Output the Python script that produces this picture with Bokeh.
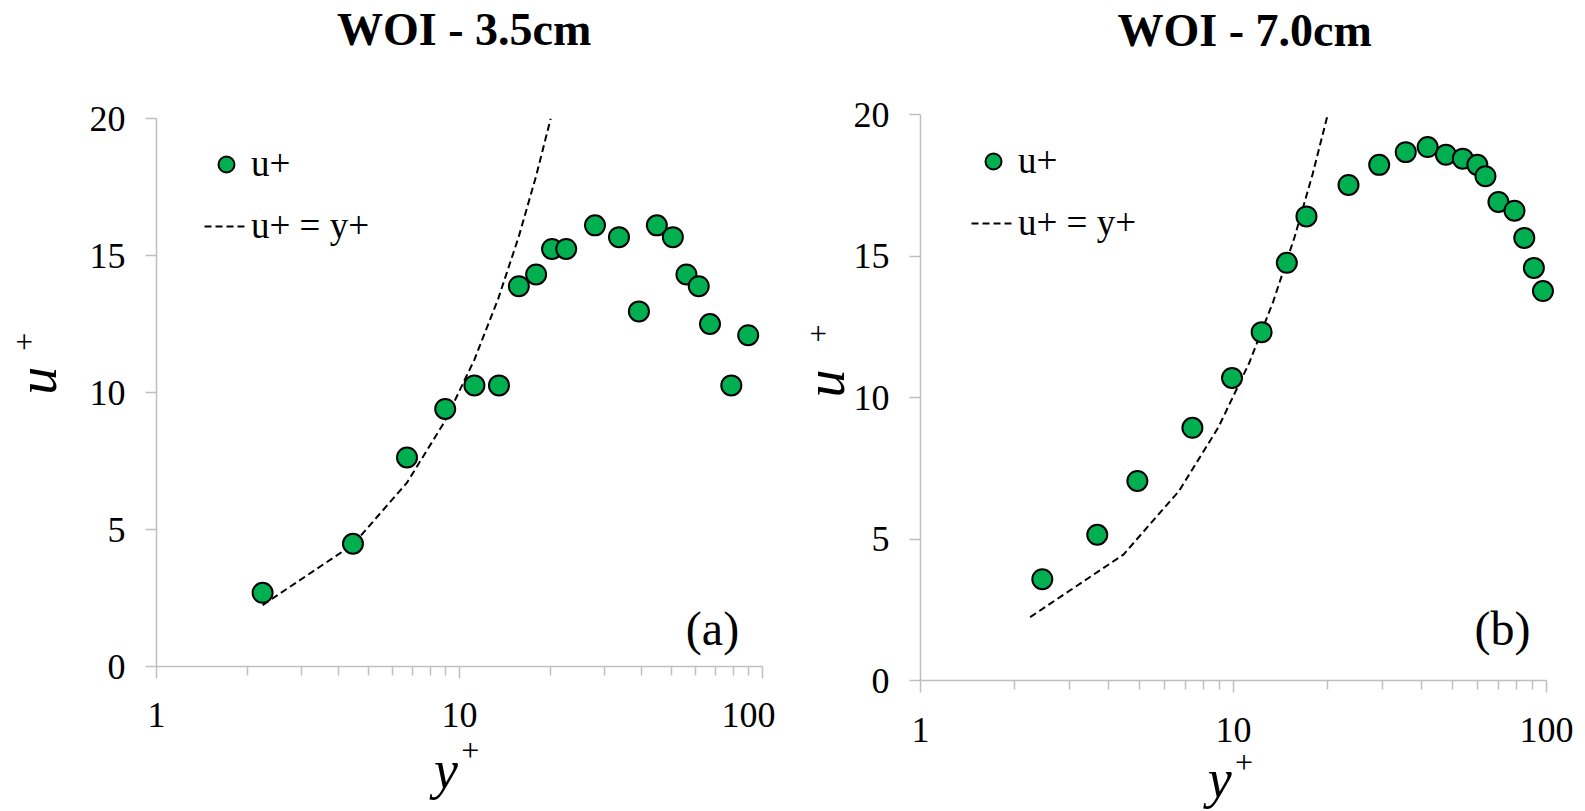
from bokeh.plotting import figure
from bokeh.models import (FixedTicker, Label, Legend, LegendItem, Range1d,
                          BasicTickFormatter, ColumnDataSource, LinearAxis)
from bokeh.layouts import row
from bokeh.embed import file_html
from bokeh.resources import INLINE

# ---------------- data ----------------
yplus_a = [2.24, 4.45, 6.71, 8.97, 11.2, 13.5, 15.7, 17.9, 20.2, 22.5, 28.0,
           33.6, 39.1, 44.8, 50.6, 56.1, 61.6, 67.1, 78.9, 89.7]
uplus_a = [2.69, 4.48, 7.63, 9.40, 10.26, 10.26, 13.88, 14.31, 15.24, 15.24,
           16.10, 15.67, 12.96, 16.10, 15.67, 14.31, 13.88, 12.50, 10.26, 12.09]

yplus_b = [2.45, 3.67, 4.93, 7.39, 9.89, 12.3, 14.8, 17.1, 23.3, 29.2, 35.5,
           41.7, 47.7, 54.0, 60.1, 63.8, 70.2, 79.0, 84.9, 91.1, 97.4]
uplus_b = [3.58, 5.15, 7.05, 8.93, 10.69, 12.31, 14.76, 16.40, 17.51, 18.22,
           18.67, 18.85, 18.58, 18.44, 18.22, 17.82, 16.91, 16.60, 15.64, 14.58,
           13.76]

# viscous sublayer line u+ = y+
line_yplus = [2.24, 4.45, 6.7, 8.95, 11.2, 13.4, 15.7, 17.9, 20.0]
line_uplus = [2.24, 4.45, 6.7, 8.95, 11.2, 13.4, 15.7, 17.9, 20.0]

x_major = [1, 10, 100]
x_minor = [2, 3, 4, 5, 6, 7, 8, 9, 20, 30, 40, 50, 60, 70, 80, 90]
y_ticks = [0, 5, 10, 15, 20]

titles = ["WOI - 3.5cm", "WOI - 7.0cm"]
tags = ["(a)", "(b)"]
legend_labels = ["u+", "u+ = y+"]
x_title = ("y", "+")     # y+ (italic y, raised +)
y_title = ("u", "+")     # u+ (italic u, raised +)

SERIF = "Liberation Serif"
AXIS_GREY = "#BFBFBF"
GREEN = "#00B050"
EN, EM, THIRD, QUART, SIXTH, THIN = ("\u2002", "\u2003", "\u2004", "\u2005",
                                     "\u2006", "\u2009")

H = 811


def label_axis(text, size, style, standoff):
    """An axis that only carries a text (no line, ticks or tick labels)."""
    return LinearAxis(ticker=FixedTicker(ticks=[]), axis_line_color=None,
                      major_tick_line_color=None, minor_tick_line_color=None,
                      major_tick_out=0, minor_tick_out=0,
                      major_label_standoff=0,
                      axis_label=text, axis_label_text_font=SERIF,
                      axis_label_text_font_size=size,
                      axis_label_text_font_style=style,
                      axis_label_text_color="black",
                      axis_label_standoff=standoff)


def panel(xs, us, title, tag, width, bl, br, bt, frame_bottom, x_end,
          title_standoff, tick_standoff, xl_plus, xl_y, yl_u, yl_plus,
          legend_loc, tag_off):
    p = figure(width=width, height=H, x_axis_type="log", title=None,
               x_range=Range1d(1, x_end), y_range=Range1d(0, 20),
               output_backend="svg", toolbar_location=None,
               min_border_left=bl, min_border_right=br,
               min_border_top=bt, min_border_bottom=H - frame_bottom)
    if "frame_align" in p.properties():
        p.frame_align = False
    p.outline_line_color = None
    p.xgrid.visible = False
    p.ygrid.visible = False
    p.background_fill_color = "white"
    p.border_fill_color = "white"

    xa = p.xaxis[0]
    xa.ticker = FixedTicker(ticks=x_major, minor_ticks=x_minor)
    xa.formatter = BasicTickFormatter()
    xa.bounds = (1, 100)
    ya = p.yaxis[0]
    ya.ticker = FixedTicker(ticks=y_ticks)
    for ax in (xa, ya):
        ax.axis_line_color = AXIS_GREY
        ax.axis_line_width = 1.5
        ax.major_tick_line_color = AXIS_GREY
        ax.major_tick_line_width = 1.5
        ax.major_tick_in = 0
        ax.minor_tick_line_color = AXIS_GREY
        ax.minor_tick_line_width = 1.5
        ax.minor_tick_in = 0
        ax.major_label_text_font = SERIF
        ax.major_label_text_font_size = "36px"
        ax.major_label_text_color = "black"
    xa.major_tick_out = 12
    xa.minor_tick_out = 9
    xa.major_label_standoff = tick_standoff
    ya.major_tick_out = 11
    ya.minor_tick_out = 0
    ya.minor_tick_line_color = None
    ya.major_label_standoff = 20

    # chart title (above the frame)
    p.add_layout(label_axis(THIN + title, "46px", "bold", title_standoff), "above")
    # axis titles y+ and u+ (base letter italic, "+" raised and smaller)
    p.add_layout(label_axis(xl_plus[0] + x_title[1], "32px", "normal", xl_plus[1]), "below")
    p.add_layout(label_axis(x_title[0] + xl_y[0], "54px", "italic", xl_y[1]), "below")
    p.add_layout(label_axis(yl_u[0] + y_title[0], "56px", "italic", yl_u[1]), "left")
    p.add_layout(label_axis(yl_plus[0] + y_title[1], "32px", "normal", yl_plus[1]), "left")

    src_line = ColumnDataSource(dict(x=line_yplus, y=line_uplus))
    src_pts = ColumnDataSource(dict(x=xs, y=us))
    r_line = p.line("x", "y", source=src_line, line_color="black",
                    line_width=2, line_dash="7 4")
    r_pts = p.scatter("x", "y", source=src_pts, size=20, fill_color=GREEN,
                      line_color="black", line_width=2)

    leg = Legend(items=[LegendItem(label=legend_labels[0], renderers=[r_pts]),
                        LegendItem(label=legend_labels[1], renderers=[r_line])],
                 location=legend_loc, margin=0, padding=0, spacing=19,
                 glyph_width=44, glyph_height=40, label_height=40,
                 label_standoff=3, label_text_font=SERIF,
                 label_text_font_size="37px", label_text_color="black",
                 background_fill_alpha=0, border_line_alpha=0)
    p.add_layout(leg)

    p.add_layout(Label(x=100, y=0, x_offset=tag_off[0], y_offset=tag_off[1],
                       text=tag, text_font=SERIF, text_font_size="48px",
                       text_align="center", text_baseline="middle",
                       text_color="black"))
    return p


# left: frame x 156..762, y 118..666
pa = panel(yplus_a, uplus_a, titles[0], tags[0], width=775, bl=156, br=13,
           bt=118, frame_bottom=666, x_end=100,
           title_standoff=64, tick_standoff=24,
           xl_plus=(EN + SIXTH, 2), xl_y=(EN, -31),
           yl_u=(QUART + SIXTH, 19), yl_plus=(EM * 3 + SIXTH, -39),
           legend_loc=(48, 419), tag_off=(-50, 38))
# right: frame x 920..1559 (1..100 spans 626 px), y 114..682
pb = panel(yplus_b, uplus_b, titles[1], tags[1], width=802, bl=145, br=18,
           bt=114, frame_bottom=682, x_end=110,
           title_standoff=59, tick_standoff=25,
           xl_plus=(QUART, -1), xl_y=(EN + QUART, -34),
           yl_u=(EN, -5), yl_plus=(EM * 4, -45),
           legend_loc=(51, 436), tag_off=(-44, 52))

layout = row(pa, pb)
open("out.html", "w").write(file_html(layout, INLINE))
